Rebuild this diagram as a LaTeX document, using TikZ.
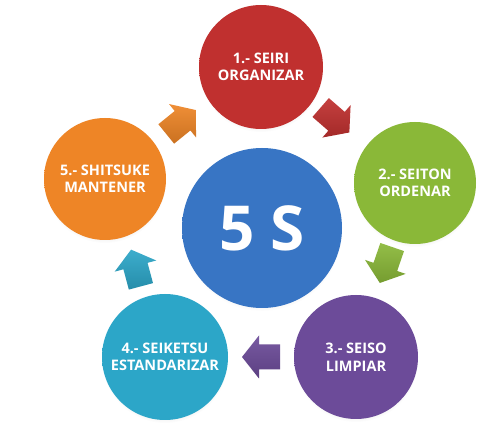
\documentclass[tikz,border=0pt]{standalone}
\usepackage{fontspec}
\setmainfont{Open Sans}
\usetikzlibrary{shadows}
\pgfdeclareradialshading[discin,discout]{disc}{\pgfpoint{0bp}{0bp}}{color(0bp)=(discin); color(28bp)=(discin); color(50bp)=(discout)}
\tikzset{
  dcol/.style 2 args={/utils/exec={\colorlet{discin}{#1}\colorlet{discout}{#2}}},
  sdisc/.style={circle, minimum size=#1, inner sep=0pt, shade, shading=disc,
    text=white, align=center, font=\bfseries\fontsize{14.5}{17.5}\selectfont,
    circular drop shadow={opacity=0.16, shadow xshift=0pt, shadow yshift=-3pt, shadow scale=1.0}},
}
\definecolor{cred}{HTML}{C0302F}
\definecolor{cgreen}{HTML}{8AB838}
\definecolor{cpurple}{HTML}{6C4B99}
\definecolor{ccyan}{HTML}{2CA6C8}
\definecolor{corange}{HTML}{EE8526}
\definecolor{cblue}{HTML}{3875C4}
\newcommand\blockarr[3]{% coordinate, angle, colour
  \begin{scope}[shift={(#1)}, rotate=#2]
    \shade[top color=#3!92!white, bottom color=#3!85!black]
      (-19,-12.5) -- (2,-12.5) -- (2,-21.5) -- (19,0) -- (2,21.5) -- (2,12.5) -- (-19,12.5) -- cycle;
  \end{scope}}
\begin{document}
\begin{tikzpicture}[x=1pt,y=-1pt]
  \useasboundingbox (0,0) rectangle (504,446);
  \fill[white] (0,0) rectangle (504,446);

  \node[sdisc=124pt, dcol={cred}{cred!85!black}] (seiri) at (261,67) {1.- SEIRI\\ORGANIZAR};
  \node[sdisc=122pt, dcol={cgreen}{cgreen!88!black}] (seiton) at (415,183) {2.- SEITON\\ORDENAR};
  \node[sdisc=124pt, dcol={cpurple}{cpurple!85!black}] (seiso) at (356,357) {3.- SEISO\\LIMPIAR};
  \node[sdisc=126pt, dcol={ccyan}{ccyan!85!black}] (seiketsu) at (165,357) {4.- SEIKETSU\\ESTANDARIZAR};
  \node[sdisc=122pt, dcol={corange}{corange!88!black}] (shitsuke) at (105,179) {5.- SHITSUKE\\MANTENER};
  \node[sdisc=160pt, dcol={cblue}{cblue!85!black}, font=\bfseries\fontsize{62}{64}\selectfont] (fives) at (262,228) {5 S};

  \coordinate (a1) at (335,120);
  \coordinate (a2) at (386,265);
  \coordinate (a3) at (261,357);
  \coordinate (a4) at (136,268);
  \coordinate (a5) at (181,122);
  \blockarr{a1}{-41}{cred}
  \blockarr{a2}{-109}{cgreen}
  \blockarr{a3}{180}{cpurple}
  \blockarr{a4}{105}{ccyan}
  \blockarr{a5}{39}{corange}
\end{tikzpicture}
\end{document}
